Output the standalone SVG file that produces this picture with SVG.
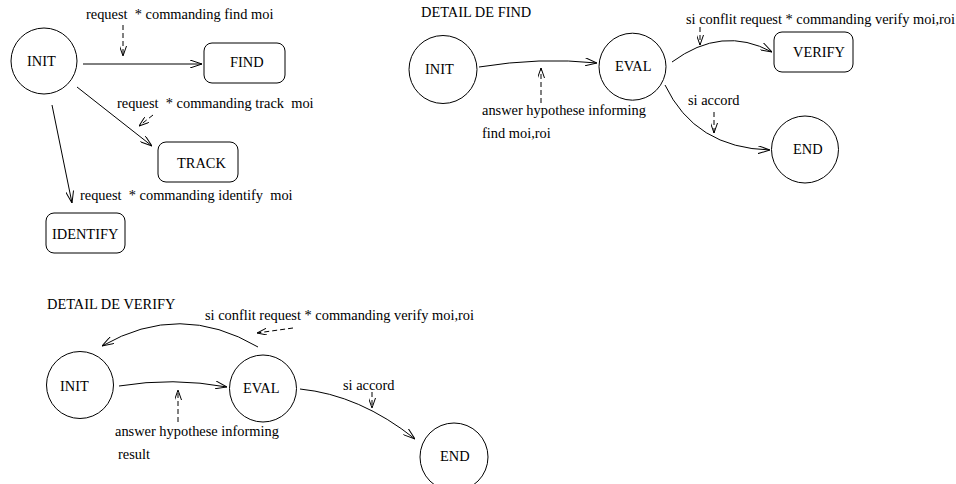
<svg xmlns="http://www.w3.org/2000/svg" width="956" height="484" viewBox="0 0 956 484">
  <style>
    text { font-family: "Liberation Serif", "Times New Roman", serif; font-size: 14.4px; fill: #000; white-space: pre; }
    .node { fill: none; stroke: #000; stroke-width: 1; }
    .edge { fill: none; stroke: #000; stroke-width: 1; marker-end: url(#arr); }
    .dash { fill: none; stroke: #000; stroke-width: 1; stroke-dasharray: 5 3; marker-end: url(#arr-s); }
  </style>
  <defs>
    <!-- open V arrowheads: full size for transitions, smaller for event hints -->
    <marker id="arr" viewBox="0 0 12 8" refX="12" refY="4" markerWidth="12" markerHeight="8" orient="auto" markerUnits="userSpaceOnUse">
      <path d="M0,0 L12,4 L0,8" fill="none" stroke="#000" stroke-width="1" stroke-dasharray="none"/>
    </marker>
    <marker id="arr-s" viewBox="0 0 10 7" refX="10" refY="3.5" markerWidth="10" markerHeight="7" orient="auto" markerUnits="userSpaceOnUse">
      <path d="M0,0 L10,3.5 L0,7" fill="none" stroke="#000" stroke-width="1" stroke-dasharray="none"/>
    </marker>
  </defs>
  <rect width="956" height="484" fill="#fff"/>

  <!-- top-left state machine -->
  <g id="d1-init"><circle class="node" cx="44" cy="61" r="33"/><text x="27" y="66">INIT</text></g>
  <g id="d1-find"><rect class="node" x="204" y="43" width="81" height="40" rx="8"/><text x="230" y="67">FIND</text></g>
  <g id="d1-track"><rect class="node" x="158" y="142" width="80" height="40" rx="8"/><text x="177" y="168">TRACK</text></g>
  <g id="d1-identify"><rect class="node" x="46" y="213" width="79" height="40" rx="8"/><text x="52" y="239">IDENTIFY</text></g>

  <!-- DETAIL DE FIND -->
  <text x="421" y="17">DETAIL DE FIND</text>
  <g id="d2-init"><circle class="node" cx="443" cy="69.5" r="34"/><text x="425" y="74">INIT</text></g>
  <g id="d2-eval"><circle class="node" cx="632.5" cy="66.7" r="33.5"/><text x="615" y="71">EVAL</text></g>
  <g id="d2-verify"><rect class="node" x="774" y="32" width="79" height="40" rx="8"/><text x="793" y="57">VERIFY</text></g>
  <g id="d2-end"><circle class="node" cx="805" cy="149.5" r="33.5"/><text x="793" y="154">END</text></g>

  <!-- DETAIL DE VERIFY -->
  <text x="47" y="309">DETAIL DE VERIFY</text>
  <g id="d3-init"><circle class="node" cx="80" cy="385" r="33.5"/><text x="60" y="391">INIT</text></g>
  <g id="d3-eval"><circle class="node" cx="263" cy="388.5" r="33.5"/><text x="243" y="393">EVAL</text></g>
  <g id="d3-end"><circle class="node" cx="454" cy="457" r="34"/><text x="440" y="461">END</text></g>

  <g id="connectors">
    <!-- top-left -->
    <path class="edge" d="M83,64 L202,64"/>
    <path class="edge" d="M77,87 L152,146"/>
    <path class="edge" d="M52,105 L72,203"/>
    <path class="dash" d="M123,25 L123,56"/>
    <path class="dash" d="M153,115 L139,126"/>
    <text x="86" y="19">request  * commanding find moi</text>
    <text x="117" y="108">request  * commanding track  moi</text>
    <text x="80" y="200">request  * commanding identify  moi</text>

    <!-- DETAIL DE FIND -->
    <path class="edge" d="M479,67 Q540,57 597,63"/>
    <path class="dash" d="M541,103 L541,68"/>
    <path class="edge" d="M672,62 Q722,25 772,52"/>
    <path class="dash" d="M700,27 L700,45"/>
    <path class="edge" d="M665,85 Q695,148 770,150"/>
    <path class="dash" d="M714,112 L714,133"/>
    <text x="482" y="115">answer hypothese informing</text>
    <text x="482" y="138">find moi,roi</text>
    <text x="686" y="24">si conflit request * commanding verify moi,roi</text>
    <text x="688" y="105">si accord</text>

    <!-- DETAIL DE VERIFY -->
    <path class="edge" d="M119,386 Q173,377 227,387"/>
    <path class="dash" d="M178,422 L178,390"/>
    <path class="edge" d="M258,347 Q180,301 102,346"/>
    <path class="dash" d="M293,328 L257,333"/>
    <path class="edge" d="M300,389 Q360,395 415,439"/>
    <path class="dash" d="M372,392 L372,408"/>
    <text x="115" y="436">answer hypothese informing</text>
    <text x="118" y="459">result</text>
    <text x="205" y="320">si conflit request * commanding verify moi,roi</text>
    <text x="343" y="390">si accord</text>
  </g>
</svg>
